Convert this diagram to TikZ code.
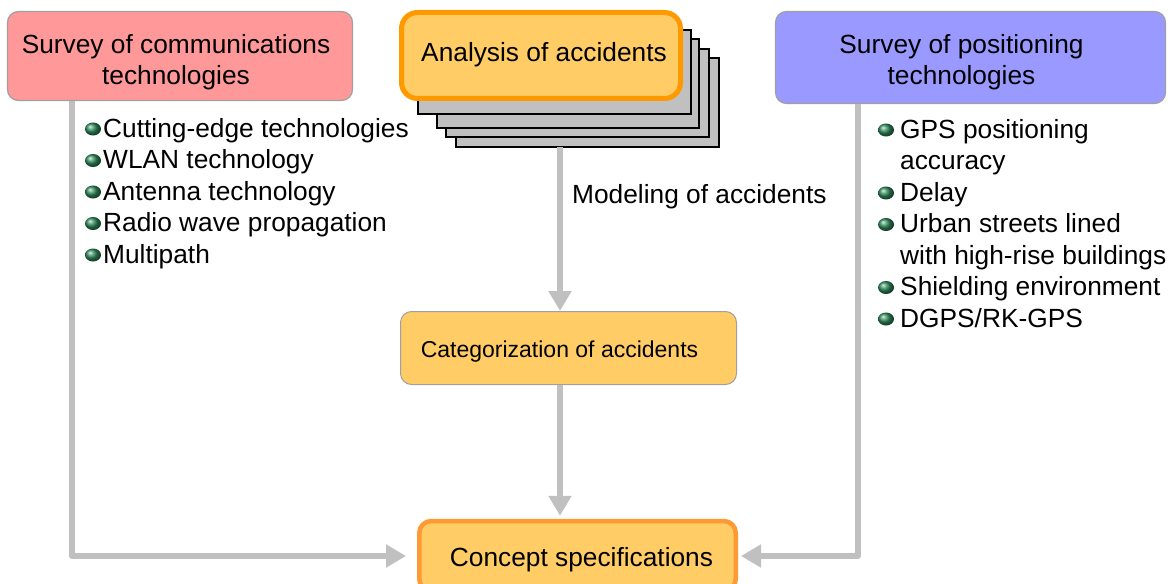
\documentclass[tikz,border=0pt]{standalone}
\usepackage{fontspec}
\setmainfont{Liberation Sans}
\usetikzlibrary{arrows.meta}
\definecolor{pinkfill}{HTML}{FF9999}
\definecolor{purplefill}{HTML}{9999FF}
\definecolor{boxfill}{HTML}{FFCC66}
\definecolor{orangeline}{HTML}{FF9900}
\definecolor{orangeline2}{HTML}{FF9933}
\definecolor{thinline}{HTML}{A0A0A0}
\definecolor{stackfill}{HTML}{C0C0C0}
\definecolor{arrowgray}{HTML}{C0C0C0}
\definecolor{bulletgreen}{HTML}{2F8A5A}
\tikzset{
  bigfont/.style={font=\fontsize{26.3}{31}\selectfont},
  surveybox/.style={draw=thinline, line width=1.2pt, rounded corners=11pt, inner sep=0pt},
  mainbox/.style={draw=orangeline, fill=boxfill, line width=5pt, rounded corners=16pt, inner sep=0pt},
  boxlabel/.style={inner sep=0pt, align=center, bigfont},
  stackbox/.style={draw=black, fill=stackfill, line width=1.5pt},
  flowarrow/.style={draw=arrowgray, line width=6pt, line join=round, -{Triangle[width=22pt,length=20pt]}},
  itemtext/.style={anchor=base west, inner sep=0pt, bigfont},
  bulletball/.style={ball color=bulletgreen},
}
\begin{document}
\begin{tikzpicture}[x=1pt,y=-1pt]
\useasboundingbox (0,0) rectangle (1174,583);
% survey boxes
\node[surveybox, fill=pinkfill, minimum width=345pt, minimum height=89pt,
  label={[boxlabel, name=pinktext, xshift=-4pt, yshift=-6pt]center:Survey of communications\\technologies}] (pink) at (180,56) {};
\node[surveybox, fill=purplefill, minimum width=390pt, minimum height=92pt,
  label={[boxlabel, name=purpletext, xshift=-9pt, yshift=-5pt]center:Survey of positioning\\technologies}] (purple) at (970.5,57.5) {};
% stacked sheets behind analysis
\draw[stackbox] (456,58) rectangle (719,147);
\draw[stackbox] (446,49) rectangle (709,137);
\draw[stackbox] (437,39) rectangle (699,128);
\draw[stackbox] (418,30) rectangle (691,114);
\node[inner sep=0pt, minimum width=263pt, minimum height=89pt] (stack4) at (587.5,102.5) {};
\node[mainbox, minimum width=279pt, minimum height=86pt,
  label={[boxlabel, name=analysistext, xshift=3pt, yshift=1pt]center:Analysis of accidents}] (analysis) at (541,55.5) {};
% categorization
\node[draw=thinline, fill=boxfill, line width=1pt, rounded corners=11pt, minimum width=336pt, minimum height=73pt, inner sep=0pt,
  label={[boxlabel, name=cattext, font=\fontsize{23}{27}\selectfont, xshift=-9pt, yshift=-4pt]center:Categorization of accidents}] (cat) at (568.5,348) {};
% concept
\node[mainbox, draw=orangeline2, line width=4.5pt, rounded corners=12pt, minimum width=316.5pt, minimum height=70pt,
  label={[boxlabel, name=concepttext, xshift=4pt, yshift=-4pt]center:Concept specifications}] (concept) at (577.5,556) {};
% arrows
\coordinate (ax) at (560,0);
\draw[flowarrow] (stack4.south -| ax) -- (cat.north -| ax);
\draw[flowarrow, shorten >=3pt] (cat.south -| ax) -- (concept.north -| ax);
\draw[flowarrow, shorten >=11pt] ([xshift=65pt]pink.south west) |- (concept.west);
\draw[flowarrow, shorten >=3pt] ([xshift=83pt]purple.south west) |- (concept.east);
\node[itemtext] (model) at (572,203) {Modeling of accidents};
% left list
\node[itemtext] (l1) at (103,137) {Cutting-edge technologies};
\node[itemtext] (l2) at (103,168.5) {WLAN technology};
\node[itemtext] (l3) at (103,200) {Antenna technology};
\node[itemtext] (l4) at (103,231.5) {Radio wave propagation};
\node[itemtext] (l5) at (103,263) {Multipath};
\foreach \yy in {129,160.5,192,223.5,255}
  \shade[bulletball] (93,\yy) ellipse (8pt and 6.5pt);
% right list
\node[itemtext] (r1) at (900,138) {GPS positioning};
\node[itemtext] (r2) at (900,169.5) {accuracy};
\node[itemtext] (r3) at (900,201) {Delay};
\node[itemtext] (r4) at (900,232.5) {Urban streets lined};
\node[itemtext] (r5) at (900,264) {with high-rise buildings};
\node[itemtext] (r6) at (900,295.5) {Shielding environment};
\node[itemtext] (r7) at (900,327) {DGPS/RK-GPS};
\foreach \yy in {130,193,224.5,287.5,319}
  \shade[bulletball] (886,\yy) ellipse (8pt and 6.5pt);
\end{tikzpicture}
\end{document}
